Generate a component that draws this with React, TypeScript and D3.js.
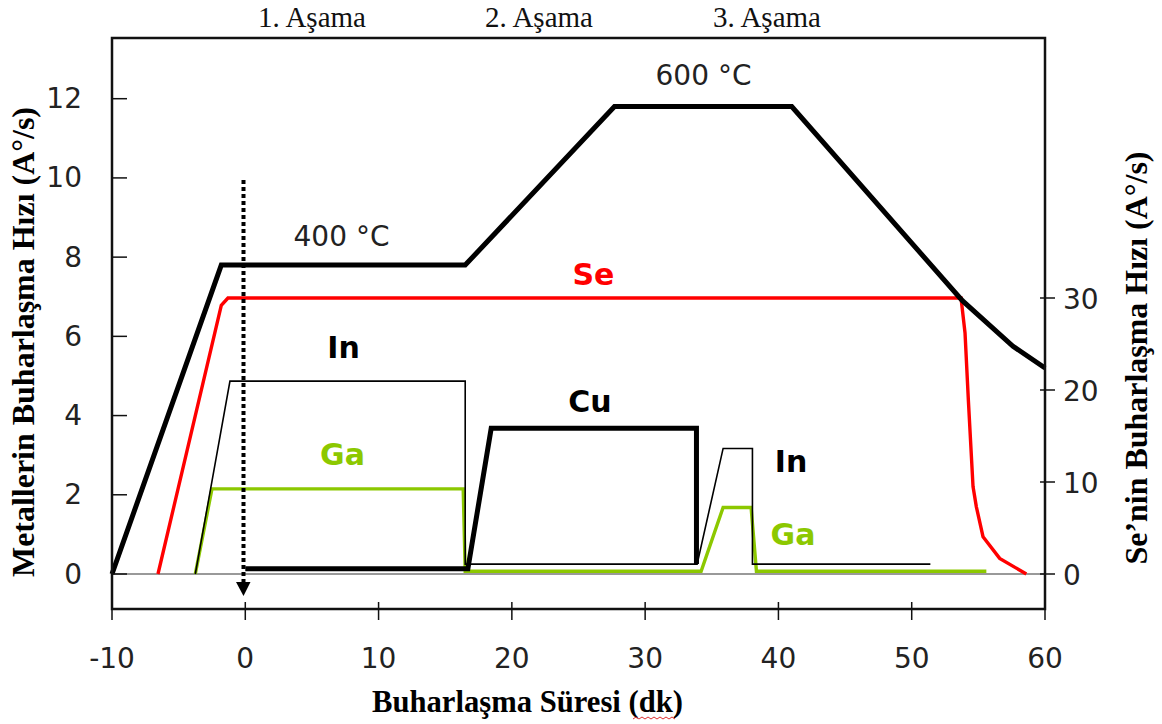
import React from "react";
import * as d3 from "d3";

// ---- data ----
const xTicks = [-10, 0, 10, 20, 30, 40, 50, 60];
const leftTicks = [0, 2, 4, 6, 8, 10, 12];
const rightTicks = [0, 10, 20, 30];

// Substrate temperature profile (drawn on left scale)
const tempTime = [-10, -1.8, 16.5, 27.7, 41.0, 53.8, 57.6, 60];
const tempRate = [0, 7.8, 7.8, 11.8, 11.8, 6.9, 5.75, 5.2];

// Se (right axis)
const seTime = [-6.55, -1.8, -1.3, 53.7, 54.0, 54.25, 54.6, 54.85, 55.35, 56.6, 58.6];
const seRate = [0, 29.2, 30, 30, 26.2, 18.9, 9.5, 7.3, 4.05, 1.7, 0];

// In (thin black, left axis)
const inTime = [-3.75, -1.15, 16.5, 16.5, 33.9, 35.85, 38.05, 38.05, 51.4];
const inRate = [0, 4.87, 4.87, 0.25, 0.25, 3.17, 3.17, 0.25, 0.25];

// Cu (thick black, left axis)
const cuTime = [0, 16.7, 18.45, 33.85, 33.85];
const cuRate = [0.13, 0.13, 3.68, 3.68, 0.25];

// Ga (green, left axis)
const gaTime = [-3.75, -2.5, 16.35, 16.5, 34.2, 35.85, 37.95, 38.35, 55.6];
const gaRate = [0, 2.15, 2.15, 0.07, 0.07, 1.68, 1.68, 0.07, 0.07];

const stageLabels = ["1. Aşama", "2. Aşama", "3. Aşama"];

// ---- layout ----
const W = 1162;
const H = 724;
const L = 112, R = 1045, T = 38, B = 609;

const x = d3.scaleLinear().domain([-10, 60]).range([L, R]);
const yL = d3.scaleLinear().domain([0, 12]).range([574, 98.7]);
const yR = d3.scaleLinear().domain([0, 30]).range([574, 298]);

const zip = (a: number[], b: number[]) => a.map((v, i) => [v, b[i]] as [number, number]);
const lineL = d3.line<[number, number]>().x(d => x(d[0])).y(d => yL(d[1]));
const lineR = d3.line<[number, number]>().x(d => x(d[0])).y(d => yR(d[1]));

const sans = "'DejaVu Sans', Verdana, sans-serif";
const serif = "'Liberation Serif', 'Times New Roman', serif";
const GREEN = "#8cc800";

export default function App() {
  const stageX = [312, 539, 767];
  return (
    <svg width={W} height={H} style={{ position: "absolute", left: 0, top: 0, background: "#fff" }}>
      <rect x={0} y={0} width={W} height={H} fill="#fff" />
      {/* zero baseline */}
      <line x1={L} x2={R} y1={yL(0)} y2={yL(0)} stroke="#777" strokeWidth={1.5} />

      {/* series */}
      <path d={lineL(zip(gaTime, gaRate))!} fill="none" stroke={GREEN} strokeWidth={3.4} />
      <path d={lineL(zip(inTime, inRate))!} fill="none" stroke="#000" strokeWidth={1.6} />
      <path d={lineL(zip(cuTime, cuRate))!} fill="none" stroke="#000" strokeWidth={5} />
      <path d={lineR(zip(seTime, seRate))!} fill="none" stroke="#ff0000" strokeWidth={3.4} />
      <path d={lineL(zip(tempTime, tempRate))!} fill="none" stroke="#000" strokeWidth={5} />

      {/* dotted arrow at t=0 */}
      <line x1={243.5} x2={243.5} y1={180} y2={584} stroke="#000" strokeWidth={4} strokeDasharray="4,3" />
      <polygon points="236,582 250.5,582 243.5,596" fill="#000" />

      {/* frame */}
      <rect x={L} y={T} width={R - L} height={B - T} fill="none" stroke="#111" strokeWidth={2.5} />

      {/* x ticks */}
      {xTicks.map(t => (
        <g key={"x" + t}>
          <line x1={x(t)} x2={x(t)} y1={602} y2={620} stroke="#111" strokeWidth={1.5} />
          <text x={x(t)} y={668} textAnchor="middle" fontFamily={sans} fontSize={28} fill="#222">{t}</text>
        </g>
      ))}
      {/* left ticks */}
      {leftTicks.map(t => (
        <g key={"l" + t}>
          <line x1={L} x2={L + 15} y1={yL(t)} y2={yL(t)} stroke="#111" strokeWidth={1.5} />
          <text x={82} y={yL(t) + 9.5} textAnchor="end" fontFamily={sans} fontSize={28} fill="#222">{t}</text>
        </g>
      ))}
      {/* right ticks */}
      {rightTicks.map(t => (
        <g key={"r" + t}>
          <line x1={R - 5} x2={R + 10} y1={yR(t)} y2={yR(t)} stroke="#111" strokeWidth={1.5} />
          <text x={1063} y={yR(t) + 11} textAnchor="start" fontFamily={sans} fontSize={28} fill="#222">{t}</text>
        </g>
      ))}

      {/* stage labels */}
      {stageLabels.map((s, i) => (
        <text key={s} x={stageX[i]} y={27} textAnchor="middle" fontFamily={serif} fontSize={29} fill="#111">{s}</text>
      ))}

      {/* annotations */}
      <text x={341.5} y={246} textAnchor="middle" fontFamily={sans} fontSize={28} fill="#222">400 °C</text>
      <text x={703.5} y={85} textAnchor="middle" fontFamily={sans} fontSize={28} fill="#222">600 °C</text>
      <text x={593.5} y={285} textAnchor="middle" fontFamily={sans} fontWeight="bold" fontSize={30} fill="#ff0000">Se</text>
      <text x={343.5} y={358} textAnchor="middle" fontFamily={sans} fontWeight="bold" fontSize={30} fill="#000">In</text>
      <text x={342.5} y={465} textAnchor="middle" fontFamily={sans} fontWeight="bold" fontSize={30} fill={GREEN}>Ga</text>
      <text x={590} y={412} textAnchor="middle" fontFamily={sans} fontWeight="bold" fontSize={30} fill="#000">Cu</text>
      <text x={791} y={472} textAnchor="middle" fontFamily={sans} fontWeight="bold" fontSize={30} fill="#000">In</text>
      <text x={793} y={545} textAnchor="middle" fontFamily={sans} fontWeight="bold" fontSize={30} fill={GREEN}>Ga</text>

      {/* axis titles */}
      <text transform="translate(34,342) rotate(-90)" textAnchor="middle" fontFamily={serif} fontWeight="bold" fontSize={32}
        textLength={470} lengthAdjust="spacingAndGlyphs" fill="#000">Metallerin Buharlaşma Hızı (A°/s)</text>
      <text transform="translate(1147,358) rotate(-90)" textAnchor="middle" fontFamily={serif} fontWeight="bold" fontSize={32}
        textLength={413} lengthAdjust="spacingAndGlyphs" fill="#000">Se’nin Buharlaşma Hızı (A°/s)</text>
      <text x={527.5} y={712} textAnchor="middle" fontFamily={serif} fontWeight="bold" fontSize={31}
        textLength={311} lengthAdjust="spacingAndGlyphs" fill="#000">Buharlaşma Süresi (dk)</text>
      <path d="M633,719 l3,-2 l3,2 l3,-2 l3,2 l3,-2 l3,2 l3,-2 l3,2 l3,-2 l3,2 l3,-2 l3,2 l3,-2 l3,2" fill="none" stroke="#e03030" strokeWidth={1} />
    </svg>
  );
}
